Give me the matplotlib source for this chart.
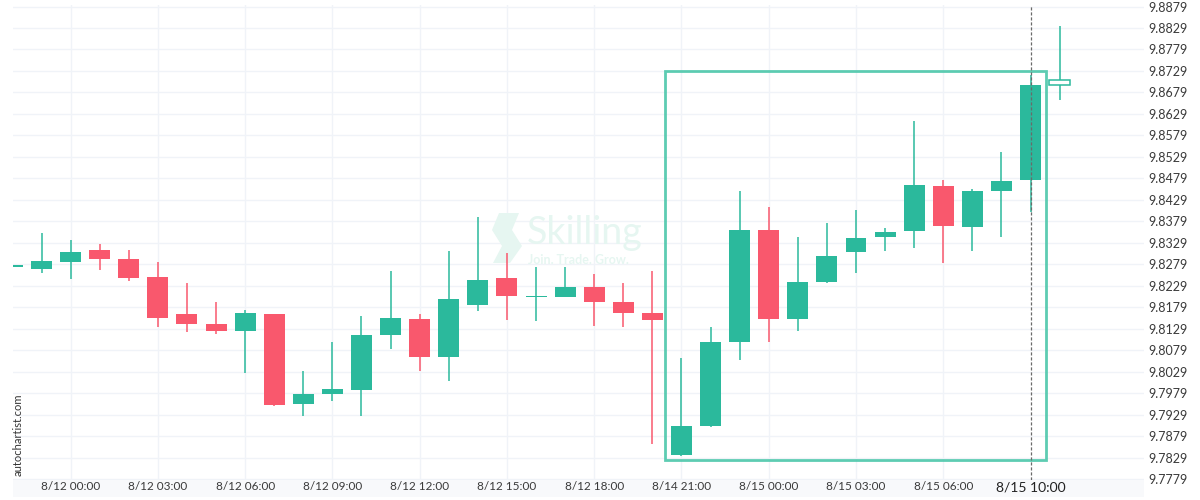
import matplotlib
matplotlib.use("Agg")
import matplotlib.pyplot as plt
from matplotlib.patches import Rectangle, Polygon
import matplotlib.transforms as mtransforms

plt.rcParams['font.family'] = ['Lato', 'DejaVu Sans']

# ---------------- data ----------------
times = ["8/11 22:00", "8/11 23:00",
         "8/12 00:00", "8/12 01:00", "8/12 02:00", "8/12 03:00", "8/12 04:00", "8/12 05:00",
         "8/12 06:00", "8/12 07:00", "8/12 08:00", "8/12 09:00", "8/12 10:00", "8/12 11:00",
         "8/12 12:00", "8/12 13:00", "8/12 14:00", "8/12 15:00", "8/12 16:00", "8/12 17:00",
         "8/12 18:00", "8/12 19:00", "8/12 20:00",
         "8/14 21:00", "8/14 22:00", "8/14 23:00",
         "8/15 00:00", "8/15 01:00", "8/15 02:00", "8/15 03:00", "8/15 04:00", "8/15 05:00",
         "8/15 06:00", "8/15 07:00", "8/15 08:00", "8/15 09:00", "8/15 10:00"]

opens = [9.8273, 9.8269, 9.8285, 9.8312, 9.8291, 9.8249, 9.8163, 9.8140, 9.8124, 9.8163,
         9.7954, 9.7977, 9.7986, 9.8114, 9.8152, 9.8064, 9.8185, 9.8247, 9.8202, 9.8203,
         9.8226, 9.8191, 9.8166, 9.7836, 9.7903, 9.8099, 9.8359, 9.8152, 9.8238, 9.8308,
         9.8343, 9.8357, 9.8461, 9.8366, 9.8450, 9.8474, 9.8696]
highs = [9.8277, 9.8352, 9.8335, 9.8325, 9.8312, 9.8284, 9.8235, 9.8190, 9.8173, 9.8163,
         9.8030, 9.8097, 9.8159, 9.8263, 9.8163, 9.8311, 9.8388, 9.8305, 9.8272, 9.8272,
         9.8256, 9.8235, 9.8263, 9.8060, 9.8132, 9.8449, 9.8412, 9.8342, 9.8374, 9.8405,
         9.8363, 9.8612, 9.8475, 9.8454, 9.8540, 9.8720, 9.8834]
lows = [9.8273, 9.8259, 9.8244, 9.8265, 9.8241, 9.8132, 9.8122, 9.8116, 9.8025, 9.7949,
        9.7926, 9.7961, 9.7926, 9.8082, 9.8030, 9.8007, 9.8170, 9.8149, 9.8146, 9.8202,
        9.8135, 9.8132, 9.7860, 9.7833, 9.7901, 9.8055, 9.8099, 9.8123, 9.8236, 9.8258,
        9.8309, 9.8318, 9.8281, 9.8309, 9.8342, 9.8400, 9.8661]
closes = [9.8277, 9.8287, 9.8308, 9.8291, 9.8248, 9.8155, 9.8140, 9.8124, 9.8166, 9.7951,
          9.7977, 9.7989, 9.8114, 9.8154, 9.8064, 9.8198, 9.8242, 9.8204, 9.8202, 9.8226,
          9.8192, 9.8166, 9.8150, 9.7903, 9.8098, 9.8359, 9.8152, 9.8238, 9.8298, 9.8340,
          9.8354, 9.8464, 9.8369, 9.8450, 9.8473, 9.8696, 9.8707]

y_ticks = [9.7779, 9.7829, 9.7879, 9.7929, 9.7979, 9.8029, 9.8079, 9.8129, 9.8179,
           9.8229, 9.8279, 9.8329, 9.8379, 9.8429, 9.8479, 9.8529, 9.8579, 9.8629,
           9.8679, 9.8729, 9.8779, 9.8829, 9.8879]

pattern_first = 23      # first candle inside the pattern box
pattern_last = 35       # last candle inside the pattern box
pattern_low = 9.7823
pattern_high = 9.8730
event_candle = 35
event_label = "8/15 10:00"

# ---------------- style ----------------
GREEN = '#2bb99c'
RED = '#f9586d'
BOX = '#4cc7aa'
GRID = '#f0f3f8'
TXT = '#3a3a3a'
WM = '#e6f6f1'

fig = plt.figure(figsize=(12, 5), dpi=100)
fig.patch.set_facecolor('white')
L, R, T, B = 13, 1144, 5, 480
ax = fig.add_axes([L / 1200, 1 - B / 500, (R - L) / 1200, (B - T) / 500])
ax.set_facecolor('white')

n = len(times)
xs = list(range(n))
ax.set_xlim(0.02, 38.9)
ax.set_ylim(9.77768, 9.88825)

# x-axis strip
ax.add_patch(Rectangle((L / 1200, 1 - 497 / 500), (R - L) / 1200, 17 / 500,
                       transform=fig.transFigure, facecolor='#f8f9fb',
                       edgecolor='none', zorder=0, clip_on=False))

# grid
for yt in y_ticks:
    ax.axhline(yt, color=GRID, lw=1, zorder=0)

tick_idx = [i for i, t in enumerate(times) if int(t.split(' ')[1][:2]) % 3 == 0 and i != event_candle]
for i in tick_idx:
    ax.axvline(i, color=GRID, lw=1, zorder=0)

# watermark
ax.text(527 / 1200, 1 - 244 / 500, "Skilling", transform=fig.transFigure, fontsize=27,
        color=WM, ha='left', va='baseline', zorder=1)
ax.text(528 / 1200, 1 - 264 / 500, "Join. Trade. Grow.", transform=fig.transFigure,
        fontsize=9, fontweight='bold', color=WM, ha='left', va='baseline', zorder=1)
logo_px = [(499, 213), (519, 213), (512, 230), (522, 246), (510, 263), (493, 263),
           (502, 246), (492, 230)]
ax.add_patch(Polygon([(x / 1200, 1 - y / 500) for x, y in logo_px], closed=True,
                     transform=fig.transFigure, facecolor=WM, edgecolor='none',
                     zorder=1))

# candles
w = 0.72
for i in xs:
    o, h, l, c = opens[i], highs[i], lows[i], closes[i]
    col = GREEN if c >= o else RED
    ax.vlines(i, l, h, color=col, lw=1.1, zorder=2)
    bot = min(o, c)
    hgt = max(abs(c - o), 0.00028)
    if i == n - 1:
        ax.add_patch(Rectangle((i - w / 2, bot), w, hgt, facecolor='white',
                               edgecolor=col, lw=1.1, zorder=3))
    else:
        ax.add_patch(Rectangle((i - w / 2, bot), w, hgt, facecolor=col,
                               edgecolor='none', zorder=3))

# pattern box
ax.add_patch(Rectangle((pattern_first - 0.56, pattern_low),
                       (pattern_last + 0.52) - (pattern_first - 0.56),
                       pattern_high - pattern_low, facecolor='none',
                       edgecolor=BOX, lw=2.0, zorder=4, alpha=0.9))

# event dashed line
ax.axvline(event_candle, color='#6a6a6a', lw=0.9, ls=(0, (2.5, 1.5)), zorder=5)

# axes cosmetics
for s in ax.spines.values():
    s.set_visible(False)
ax.set_xticks([])
ax.yaxis.tick_right()
ax.set_yticks(y_ticks)
ax.set_yticklabels([f"{v:.4f}" for v in y_ticks])
ax.tick_params(axis='y', length=0, pad=3, labelsize=9, labelcolor=TXT)

trans = mtransforms.blended_transform_factory(ax.transData, fig.transFigure)
for i in tick_idx:
    ax.text(i, 1 - 487 / 500, times[i], transform=trans, ha='center', va='center',
            fontsize=8.5, color=TXT, clip_on=False, zorder=6)
ax.text(event_candle, 1 - 487 / 500, event_label, transform=trans, ha='center',
        va='center', fontsize=10, color='#222222', clip_on=False, zorder=6)

fig.text(18 / 1200, 1 - 435 / 500, "autochartist.com", rotation=90, ha='center',
         va='center', fontsize=8, color='#333333')

fig.savefig("out.png", dpi=100, facecolor='white')
